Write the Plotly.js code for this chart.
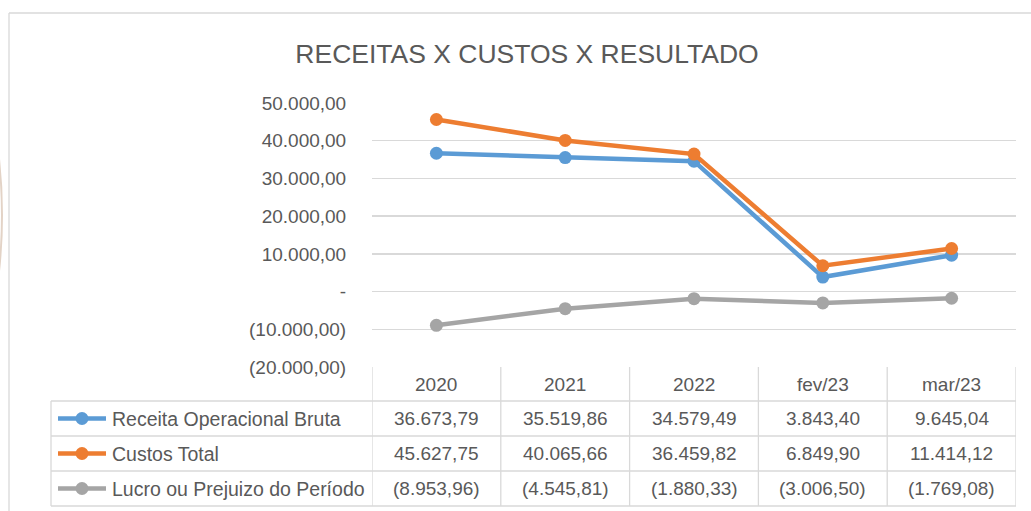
<!DOCTYPE html>
<html>
<head>
<meta charset="utf-8">
<script src="https://cdn.plot.ly/plotly-3.0.1.min.js"></script>
<style>html,body{margin:0;padding:0;background:#fff;}#chart{width:1031px;height:511px;}</style>
</head>
<body>
<div id="chart"></div>
<script>
const categories = ["2020", "2021", "2022", "fev/23", "mar/23"];
const receita = [36673.79, 35519.86, 34579.49, 3843.40, 9645.04];
const custos = [45627.75, 40065.66, 36459.82, 6849.90, 11414.12];
const lucro = [-8953.96, -4545.81, -1880.33, -3006.50, -1769.08];
const seriesNames = ["Receita Operacional Bruta", "Custos Total", "Lucro ou Prejuizo do Período"];
const yTickVals = [50000, 40000, 30000, 20000, 10000, 0, -10000, -20000];
const titleText = "RECEITAS X CUSTOS X RESULTADO";

const colors = ["#5B9BD5", "#ED7D31", "#A5A5A5"];
const txt = "#595959";
const grid = "#D9D9D9";
const FONT = "Liberation Sans, Arial, sans-serif";

function fmt(v) {
  const neg = v < 0;
  const a = Math.abs(v);
  if (a === 0) return "-";
  let [ip, dp] = a.toFixed(2).split(".");
  ip = ip.replace(/\B(?=(\d{3})+(?!\d))/g, ".");
  const s = ip + "," + dp;
  return neg ? "(" + s + ")" : s;
}

const L = 372, R = 1016, T = 103, B = 367;
const W = 1031, H = 511;
const px = x => (x - L) / (R - L);
const py = y => (B - y) / (B - T);

const series = [receita, custos, lucro];
const traces = series.map((s, i) => ({
  type: "scatter", mode: "lines+markers",
  x: categories, y: s, name: seriesNames[i],
  line: {color: colors[i], width: 4.5},
  marker: {color: colors[i], size: 13},
  hoverinfo: "skip"
}));

const shapes = [];
const annotations = [];
const lineStyle = {color: grid, width: 1.3};
// chart border
shapes.push({type: "line", xref: "paper", yref: "paper", x0: px(9), x1: px(W + 5), y0: py(13), y1: py(13), line: lineStyle});
shapes.push({type: "line", xref: "paper", yref: "paper", x0: px(9), x1: px(9), y0: py(13), y1: py(H + 5), line: lineStyle});
// faint arc artifact at left edge
shapes.push({type: "path", xref: "paper", yref: "paper",
  path: `M ${px(-2)} ${py(150)} Q ${px(6)} ${py(215)} ${px(-2)} ${py(280)}`,
  line: {color: "#E3D3C6", width: 2}});

// table rows
const rowTops = [401, 436, 471, 506];
const headerCenter = 384;
const rowCenters = [418.5, 453.5, 488.5];
rowTops.forEach(y => {
  shapes.push({type: "line", xref: "paper", yref: "paper", x0: px(51), x1: 1, y0: py(y), y1: py(y), line: lineStyle});
});
shapes.push({type: "line", xref: "paper", yref: "paper", x0: px(51), x1: px(51), y0: py(401), y1: py(506), line: lineStyle});
for (let i = 0; i <= categories.length; i++) {
  shapes.push({type: "line", xref: "x", yref: "paper", x0: i - 0.5, x1: i - 0.5, y0: 0, y1: py(506), line: lineStyle});
}
// header labels
categories.forEach((c, i) => {
  annotations.push({xref: "x", yref: "paper", x: i, y: py(headerCenter), text: c, showarrow: false,
    xanchor: "center", yanchor: "middle", font: {family: FONT, size: 19, color: txt}});
});
// values
series.forEach((s, r) => {
  s.forEach((v, i) => {
    annotations.push({xref: "x", yref: "paper", x: i, y: py(rowCenters[r]), text: fmt(v), showarrow: false,
      xanchor: "center", yanchor: "middle", font: {family: FONT, size: 19, color: txt}});
  });
  // legend key
  shapes.push({type: "line", xref: "paper", yref: "paper", x0: px(58), x1: px(106), y0: py(rowCenters[r]), y1: py(rowCenters[r]),
    line: {color: colors[r], width: 4.5}});
  shapes.push({type: "circle", xref: "paper", yref: "paper", xsizemode: "pixel", ysizemode: "pixel",
    xanchor: px(82), yanchor: py(rowCenters[r]), x0: -6.5, x1: 6.5, y0: -6.5, y1: 6.5,
    fillcolor: colors[r], line: {color: colors[r], width: 0}});
  annotations.push({xref: "paper", yref: "paper", x: px(110), y: py(rowCenters[r]), text: seriesNames[r], showarrow: false,
    xanchor: "left", yanchor: "middle", font: {family: FONT, size: 19.5, color: txt}});
});

const layout = {
  width: W, height: H,
  margin: {l: L, r: W - R, t: T, b: H - B, pad: 0},
  paper_bgcolor: "#fff", plot_bgcolor: "#fff",
  showlegend: false,
  title: {text: titleText, x: 527 / W, xanchor: "center", xref: "container", y: 1 - 54 / H, yanchor: "middle",
    font: {family: FONT, size: 26.5, color: txt}},
  xaxis: {type: "category", range: [-0.5, 4.5], showgrid: false, zeroline: false, showline: false,
    showticklabels: false, ticks: "", fixedrange: true},
  yaxis: {range: [-20000, 50000], tickvals: yTickVals, ticktext: yTickVals.map(fmt),
    showgrid: true, gridcolor: grid, gridwidth: 1.3, zeroline: false, showline: false,
    ticks: "outside", ticklen: 21, tickcolor: "rgba(0,0,0,0)",
    tickfont: {family: FONT, size: 19, color: txt}, fixedrange: true},
  shapes: shapes,
  annotations: annotations
};

Plotly.newPlot("chart", traces, layout, {displayModeBar: false, staticPlot: true});
</script>
</body>
</html>
